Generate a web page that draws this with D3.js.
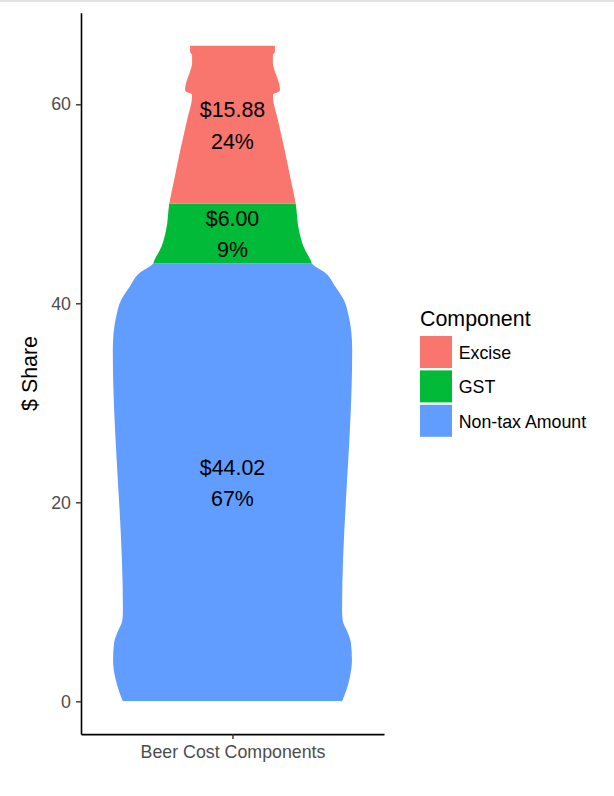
<!DOCTYPE html>
<html>
<head>
<meta charset="utf-8">
<script src="https://cdn.jsdelivr.net/npm/d3@7"></script>
<style>
  body { margin: 0; background: #fff; }
  text { font-family: "Liberation Sans", Arial, sans-serif; }
</style>
</head>
<body>
<div id="viz"></div>
<script>
// data
var components = ["Excise", "GST", "Non-tax Amount"];
var amounts = [15.88, 6.00, 44.02];
var shares = ["24%", "9%", "67%"];
var colors = ["#F8766D", "#00BA38", "#619CFF"];
var category = ["Beer Cost Components"];
var yTickValues = [0, 20, 40, 60];

// bottle outline, top to bottom: height in $ and half width in x units
var bottleHeight = [65.9, 65.26, 64.95, 64.15, 63.45, 62.74, 62.14, 61.44, 61.24, 61.04, 60.83,
  58.41, 55.47, 52.4, 50.08, 47.36, 45.66, 44.35, 43.95, 43.05, 41.64, 40.33, 38.62, 37.02, 35.31,
  9.18, 8.17, 6.86, 5.86, 4.15, 2.44, 1.14, 0];
var bottleHalfWidth = [0.168, 0.168, 0.160, 0.160, 0.166, 0.176, 0.184, 0.188, 0.182, 0.162, 0.160,
  0.180, 0.206, 0.231, 0.250, 0.263, 0.282, 0.309, 0.316, 0.368, 0.408, 0.441, 0.461, 0.471, 0.474,
  0.434, 0.436, 0.457, 0.469, 0.473, 0.465, 0.451, 0.434];

var yScale,
    yAxisTicks,
    xScale,
    xBand,
    xAxisTicks,
    bottleArea,
    myChart;

var width = 614, height = 796;
var panel = {left: 81, right: 384, top: 12.8, bottom: 734.1};

var total = d3.sum(amounts);

// scales (ggplot style 5% expansion)
yScale = d3.scaleLinear()
    .domain([-0.05 * total, total * 1.05])
    .range([panel.bottom, panel.top]);

xScale = d3.scaleLinear()
    .domain([0.4, 1.6])
    .range([panel.left, panel.right]);

xBand = d3.scalePoint()
    .domain(category)
    .range([panel.left, panel.right])
    .padding(0.5);

yAxisTicks = d3.axisLeft(yScale)
    .tickValues(yTickValues)
    .tickSize(5)
    .tickSizeOuter(0)
    .tickPadding(5);

xAxisTicks = d3.axisBottom(xBand)
    .tickSize(5)
    .tickSizeOuter(0)
    .tickPadding(6);

myChart = d3.select("#viz")
    .append("svg")
    .attr("width", width)
    .attr("height", height);

// thin grey strip at the top of the picture
myChart.append("rect")
    .attr("x", 0).attr("y", 0)
    .attr("width", width).attr("height", 2)
    .attr("fill", "#e3e3e3");

// bottle shape as clip
var outline = bottleHeight.map(function(h, i) {
  return {h: h, w: bottleHalfWidth[i]};
});

bottleArea = d3.area()
    .curve(d3.curveMonotoneY)
    .y(function(d) { return yScale(d.h); })
    .x0(function(d) { return xScale(1 - d.w); })
    .x1(function(d) { return xScale(1 + d.w); });

myChart.append("clipPath")
    .attr("id", "bottle")
    .append("path")
    .attr("d", bottleArea(outline));

// stack from the bottom: last component first
var segments = [];
var base = 0;
for (var i = components.length - 1; i >= 0; i--) {
  segments.push({name: components[i], lo: base, hi: base + amounts[i],
                 amount: amounts[i], share: shares[i], color: colors[i]});
  base += amounts[i];
}

var fill = myChart.append("g").attr("clip-path", "url(#bottle)");
fill.selectAll("rect")
  .data(segments)
  .join("rect")
    .attr("x", xScale(0.4))
    .attr("width", xScale(1.6) - xScale(0.4))
    .attr("y", function(d) { return yScale(d.hi); })
    .attr("height", function(d) { return yScale(d.lo) - yScale(d.hi); })
    .attr("fill", function(d) { return d.color; });

// labels
var labels = myChart.append("g")
    .attr("text-anchor", "middle")
    .attr("font-size", "21.4px")
    .attr("fill", "#000");

segments.forEach(function(d) {
  var mid = yScale((d.lo + d.hi) / 2);
  labels.append("text")
      .attr("x", xBand(category[0]))
      .attr("y", mid - 7.5)
      .text("$" + d.amount.toFixed(2));
  labels.append("text")
      .attr("x", xBand(category[0]))
      .attr("y", mid + 24)
      .text(d.share);
});

// axes
var yGuide = myChart.append("g")
    .attr("transform", "translate(" + panel.left + ",0)")
    .call(yAxisTicks);

var xGuide = myChart.append("g")
    .attr("transform", "translate(0," + panel.bottom + ")")
    .call(xAxisTicks);

[yGuide, xGuide].forEach(function(g) {
  g.select(".domain").attr("stroke", "#000").attr("stroke-width", 1.6);
  g.selectAll(".tick line").attr("stroke", "#333").attr("stroke-width", 1.4);
  g.selectAll(".tick text")
      .attr("fill", "#4d4d4d")
      .attr("font-size", "17.8px")
      .attr("font-family", "Liberation Sans, Arial, sans-serif");
});

// y title
myChart.append("text")
    .attr("transform", "translate(37," + ((panel.top + panel.bottom) / 2) + ") rotate(-90)")
    .attr("text-anchor", "middle")
    .attr("font-size", "21.4px")
    .text("$ Share");

// legend
var legend = myChart.append("g")
    .attr("transform", "translate(420,0)");

legend.append("text")
    .attr("x", 0)
    .attr("y", 326)
    .attr("font-size", "21.4px")
    .text("Component");

var keys = legend.selectAll("g.key")
  .data(components)
  .join("g")
    .attr("class", "key")
    .attr("transform", function(d, i) { return "translate(0," + (336 + i * 34.4) + ")"; });

keys.append("rect")
    .attr("width", 32)
    .attr("height", 32)
    .attr("fill", function(d, i) { return colors[i]; });

keys.append("text")
    .attr("x", 38.7)
    .attr("y", 23)
    .attr("font-size", "17.8px")
    .text(function(d) { return d; });
</script>
</body>
</html>
